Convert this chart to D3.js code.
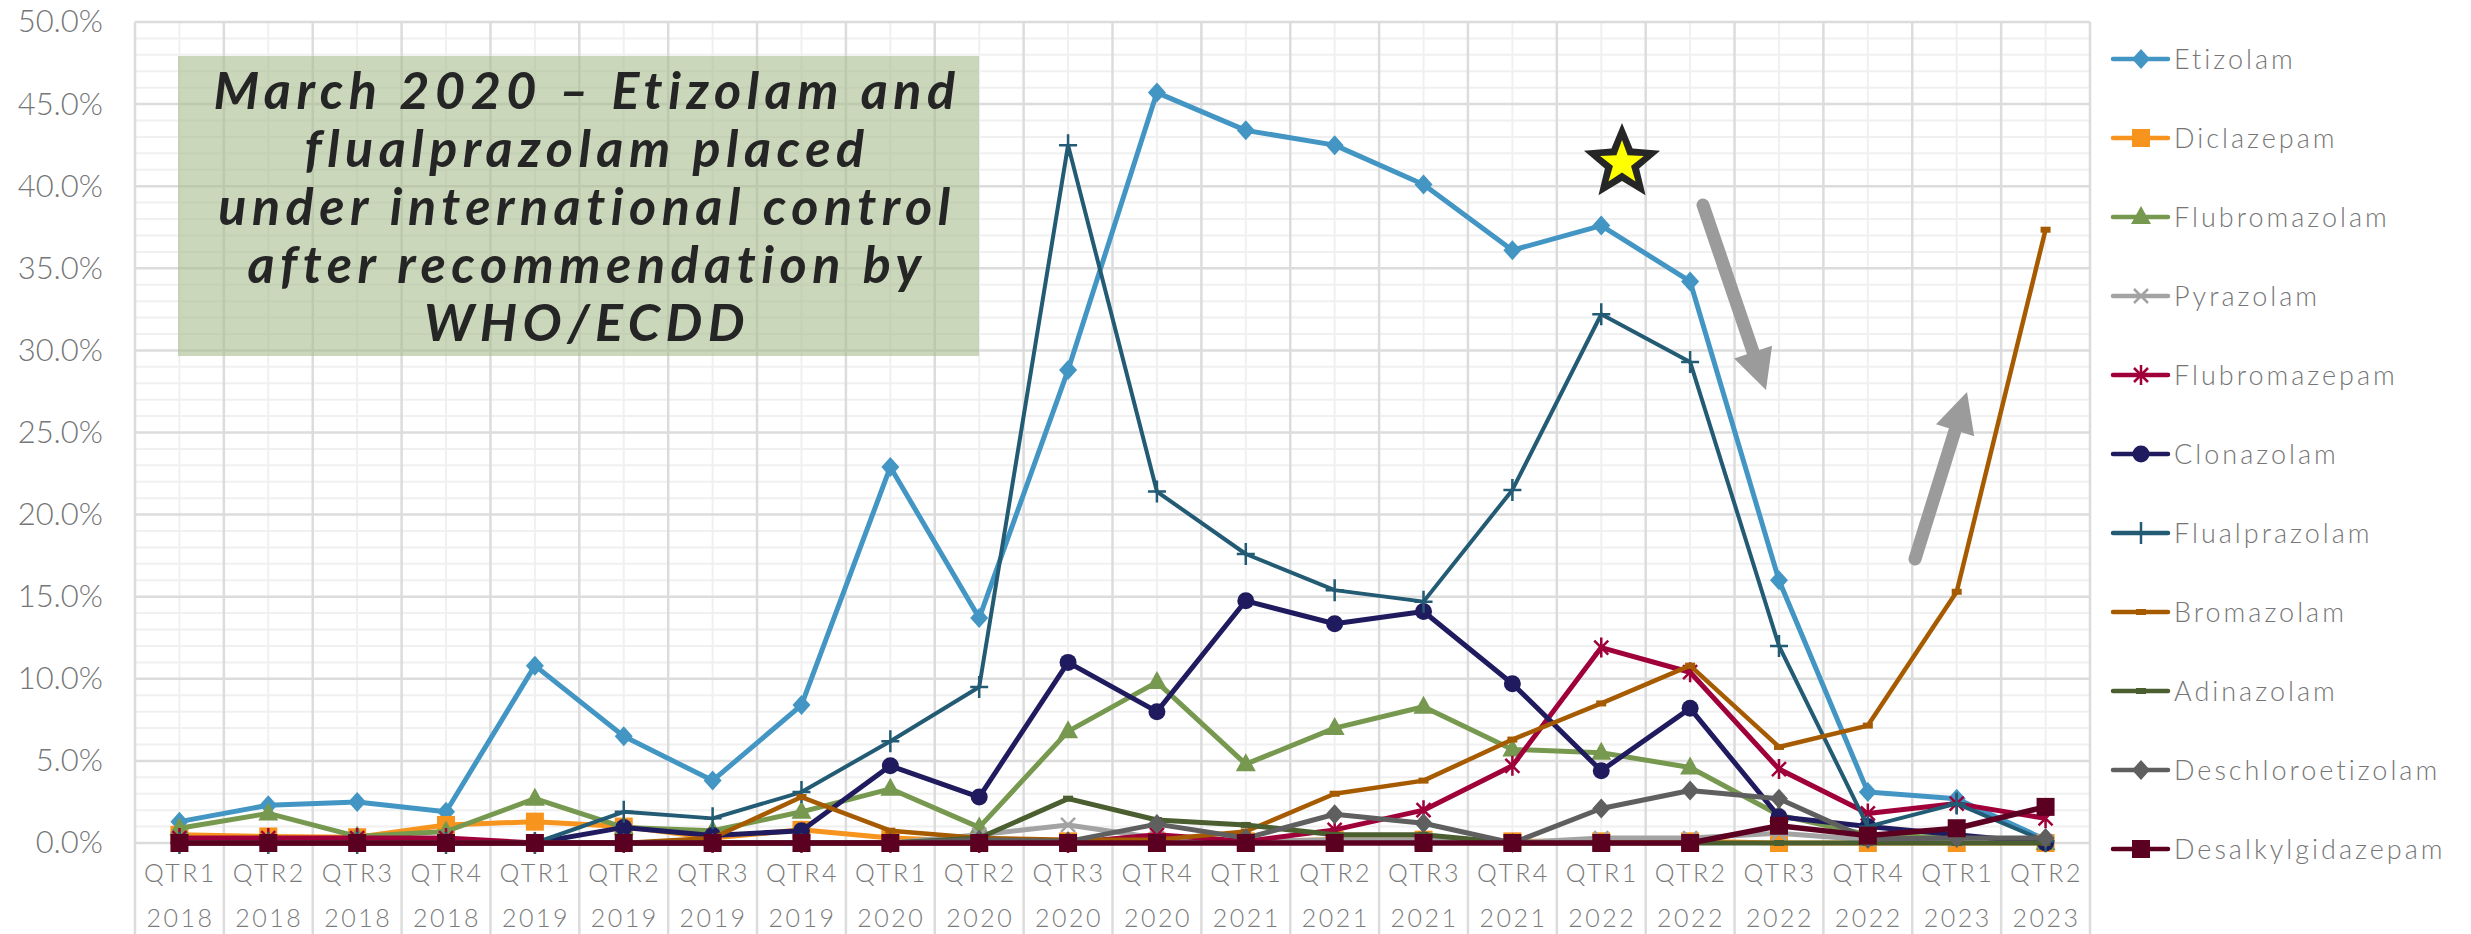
<!DOCTYPE html>
<html>
<head>
<meta charset="utf-8">
<script src="https://cdn.jsdelivr.net/npm/d3@7"></script>
<style>
  body { margin: 0; background: #fff; }
  text { font-family: Lato, "Open Sans", sans-serif; }
</style>
</head>
<body>
<main></main>
<script>
// categories
var quarters = ["QTR1","QTR2","QTR3","QTR4","QTR1","QTR2","QTR3","QTR4","QTR1","QTR2","QTR3","QTR4",
                "QTR1","QTR2","QTR3","QTR4","QTR1","QTR2","QTR3","QTR4","QTR1","QTR2"];
var years = ["2018","2018","2018","2018","2019","2019","2019","2019","2020","2020","2020","2020",
             "2021","2021","2021","2021","2022","2022","2022","2022","2023","2023"];
var yTicks = [0, 5, 10, 15, 20, 25, 30, 35, 40, 45, 50];

// series values (% share)
var etizolam          = [1.3, 2.3, 2.5, 1.9, 10.8, 6.5, 3.8, 8.4, 22.9, 13.7, 28.8, 45.7, 43.4, 42.5, 40.1, 36.1, 37.6, 34.2, 16.0, 3.1, 2.7, 0.2];
var diclazepam        = [0.5, 0.4, 0.35, 1.1, 1.3, 1.0, 0.3, 0.8, 0.3, 0.1, 0.1, 0.1, 0.1, 0.2, 0.2, 0.1, 0.1, 0.1, 0, 0, 0, 0];
var flubromazolam     = [0.9, 1.8, 0.4, 0.7, 2.7, 0.95, 0.75, 1.9, 3.3, 0.95, 6.8, 9.8, 4.8, 7.0, 8.3, 5.7, 5.5, 4.6, 1.7, 0.5, 0.3, 0];
var pyrazolam         = [0, 0, 0, 0, 0, 0, 0, 0, 0, 0.5, 1.1, 0.3, 0.1, 0.2, 0.2, 0, 0.3, 0.3, 0.6, 0.2, 0.2, 0.1];
var flubromazepam     = [0.3, 0.3, 0.3, 0.3, 0, 0, 0, 0, 0, 0, 0, 0.5, 0.1, 0.8, 2.0, 4.7, 11.9, 10.4, 4.5, 1.8, 2.4, 1.5];
var clonazolam        = [0, 0, 0, 0, 0, 0.95, 0.45, 0.75, 4.7, 2.8, 11.0, 8.0, 14.75, 13.35, 14.1, 9.7, 4.4, 8.2, 1.6, 1.0, 0.5, 0];
var flualprazolam     = [0, 0, 0, 0, 0, 1.9, 1.5, 3.1, 6.2, 9.5, 42.5, 21.4, 17.6, 15.4, 14.7, 21.5, 32.2, 29.3, 12.0, 1.0, 2.4, 0.1];
var bromazolam        = [0, 0, 0, 0, 0, 0, 0.3, 2.8, 0.75, 0.3, 0.2, 0.2, 0.7, 3.0, 3.8, 6.3, 8.5, 10.8, 5.85, 7.15, 15.3, 37.35];
var adinazolam        = [0, 0, 0, 0, 0, 0, 0, 0, 0, 0.3, 2.7, 1.4, 1.1, 0.5, 0.5, 0, 0, 0, 0, 0, 0, 0];
var deschloroetizolam = [0, 0, 0, 0, 0, 0, 0, 0, 0, 0.2, 0.1, 1.15, 0.3, 1.75, 1.2, 0, 2.1, 3.2, 2.7, 0.25, 0.3, 0.3];
var desalkylgidazepam = [0, 0, 0, 0, 0, 0, 0, 0, 0, 0, 0, 0, 0, 0, 0, 0, 0, 0, 1.05, 0.45, 0.9, 2.2];

var seriesNames = ["Etizolam","Diclazepam","Flubromazolam","Pyrazolam","Flubromazepam","Clonazolam",
                   "Flualprazolam","Bromazolam","Adinazolam","Deschloroetizolam","Desalkylgidazepam"];
var seriesValues = [etizolam, diclazepam, flubromazolam, pyrazolam, flubromazepam, clonazolam,
                    flualprazolam, bromazolam, adinazolam, deschloroetizolam, desalkylgidazepam];

// styles
var colors  = ["#4396c4","#f7941d","#77984f","#a3a3a3","#a0003a","#1f1b5e","#225b73","#a65b00","#4a5e2f","#5f5f5f","#5c0022"];
var markers = ["diamond","square","triangle","x","asterisk","circle","plus","dash","dash","diamond","square"];
var widths  = [5, 5, 5, 5, 5, 5, 4, 4.5, 5, 5, 5.5];

var W = 2471, H = 934;
var svg = d3.select("main").append("svg")
    .attr("width", W)
    .attr("height", H)
    .style("display", "block");

var x = d3.scaleBand().domain(d3.range(quarters.length)).range([135, 2090]).padding(0);
var y = d3.scaleLinear().domain([0, 50]).range([843, 22]);
var xc = function(i) { return x(i) + x.bandwidth() / 2; };

// minor gridlines
svg.append("g").selectAll("line")
  .data(d3.range(0, 51).filter(function(v) { return v % 5 !== 0; }))
  .join("line")
    .attr("x1", 135).attr("x2", 2090)
    .attr("y1", function(d) { return y(d); }).attr("y2", function(d) { return y(d); })
    .attr("stroke", "#f0f0f0").attr("stroke-width", 2);

svg.append("g").selectAll("line")
  .data(d3.range(quarters.length))
  .join("line")
    .attr("x1", xc).attr("x2", xc)
    .attr("y1", y(50)).attr("y2", y(0))
    .attr("stroke", "#f0f0f0").attr("stroke-width", 2);

// major gridlines
svg.append("g").selectAll("line")
  .data(yTicks)
  .join("line")
    .attr("x1", 135).attr("x2", 2090)
    .attr("y1", function(d) { return y(d); }).attr("y2", function(d) { return y(d); })
    .attr("stroke", "#dcdcdc").attr("stroke-width", 2.5);

svg.append("g").selectAll("line")
  .data(d3.range(quarters.length + 1))
  .join("line")
    .attr("x1", function(i) { return i < quarters.length ? x(i) : x.range()[1]; })
    .attr("x2", function(i) { return i < quarters.length ? x(i) : x.range()[1]; })
    .attr("y1", y(50)).attr("y2", H)
    .attr("stroke", "#dcdcdc").attr("stroke-width", 2.5);

// y axis
var yAxis = svg.append("g")
    .attr("transform", "translate(135,0)")
    .call(d3.axisLeft(y).tickValues(yTicks).tickSize(0).tickPadding(32)
      .tickFormat(function(d) { return d3.format(".1f")(d) + "%"; }));
yAxis.select(".domain").remove();
yAxis.selectAll("text")
    .style("font-family", "Lato, sans-serif")
    .style("font-size", "31px")
    .style("font-weight", 300)
    .attr("fill", "#767676");

// x labels (two levels)
svg.append("g").selectAll("text")
  .data(quarters)
  .join("text")
    .attr("x", function(d, i) { return xc(i) + 1; })
    .attr("y", 882)
    .attr("text-anchor", "middle")
    .attr("fill", "#7a7a7a")
    .style("font-size", "25px")
    .style("font-weight", 300)
    .style("letter-spacing", "2.5px")
    .text(function(d) { return d; });

svg.append("g").selectAll("text")
  .data(years)
  .join("text")
    .attr("x", function(d, i) { return xc(i) + 1; })
    .attr("y", 927)
    .attr("text-anchor", "middle")
    .attr("fill", "#7a7a7a")
    .style("font-size", "25px")
    .style("font-weight", 300)
    .style("letter-spacing", "2.5px")
    .text(function(d) { return d; });

// text box annotation
svg.append("rect")
    .attr("x", 178).attr("y", 56)
    .attr("width", 801).attr("height", 300)
    .attr("fill", "#a9bd8e").attr("fill-opacity", 0.6);

var boxLines = ["March 2020 \u2013 Etizolam and", "flualprazolam placed", "under international control",
                "after recommendation by", "WHO/ECDD"];
svg.append("g").selectAll("text")
  .data(boxLines)
  .join("text")
    .attr("x", 587)
    .attr("y", function(d, i) { return 109 + i * 58; })
    .attr("text-anchor", "middle")
    .attr("fill", "#252525")
    .style("font-size", "52px")
    .style("font-weight", 700)
    .style("font-style", "italic")
    .style("letter-spacing", "5.5px")
    .text(function(d) { return d; });

// marker shapes
function markerPath(type) {
  switch (type) {
    case "diamond":  return "M0,-10L9,0L0,10L-9,0Z";
    case "square":   return "M-9,-9H9V9H-9Z";
    case "triangle": return "M0,-11L10,7L-10,7Z";
    case "circle":   return "M-8.5,0A8.5,8.5 0 1,0 8.5,0A8.5,8.5 0 1,0 -8.5,0Z";
    case "dash":     return "M-5,-3H5V3H-5Z";
    case "x":        return "M-7,-7L7,7M-7,7L7,-7";
    case "asterisk": return "M-7,-7L7,7M-7,7L7,-7M0,-10V10";
    case "plus":     return "M-9,0H9M0,-11V11";
  }
}
var stroked = { x: true, asterisk: true, plus: true };

var line = d3.line()
    .x(function(d, i) { return xc(i); })
    .y(function(d) { return y(d); });

seriesValues.forEach(function(vals, s) {
  var g = svg.append("g");
  g.append("path")
      .datum(vals)
      .attr("d", line)
      .attr("fill", "none")
      .attr("stroke", colors[s])
      .attr("stroke-width", widths[s])
      .attr("stroke-linejoin", "round");
  g.selectAll("path.m")
    .data(vals)
    .join("path")
      .attr("class", "m")
      .attr("transform", function(d, i) { return "translate(" + xc(i) + "," + y(d) + ")"; })
      .attr("d", markerPath(markers[s]))
      .attr("fill", stroked[markers[s]] ? "none" : colors[s])
      .attr("stroke", stroked[markers[s]] ? colors[s] : "none")
      .attr("stroke-width", 2.5);
});

// legend
var legend = svg.append("g").selectAll("g")
  .data(seriesNames)
  .join("g")
    .attr("transform", function(d, i) { return "translate(2113," + (59 + i * 79) + ")"; });
legend.append("line")
    .attr("x1", 0).attr("x2", 55)
    .attr("stroke", function(d, i) { return colors[i]; })
    .attr("stroke-width", 4.5)
    .attr("stroke-linecap", "round");
legend.append("path")
    .attr("transform", "translate(28,0)")
    .attr("d", function(d, i) { return markerPath(markers[i]); })
    .attr("fill", function(d, i) { return stroked[markers[i]] ? "none" : colors[i]; })
    .attr("stroke", function(d, i) { return stroked[markers[i]] ? colors[i] : "none"; })
    .attr("stroke-width", 2.5);
legend.append("text")
    .attr("x", 61)
    .attr("y", 10)
    .attr("fill", "#767676")
    .style("font-size", "27px")
    .style("font-weight", 300)
    .style("letter-spacing", "3px")
    .text(function(d) { return d; });

// star
function starPath(R, r) {
  var pts = d3.range(10).map(function(k) {
    var a = -Math.PI / 2 + k * Math.PI / 5, rad = k % 2 ? r : R;
    return [rad * Math.cos(a), rad * Math.sin(a)];
  });
  return "M" + pts.join("L") + "Z";
}
var star = svg.append("g").attr("transform", "translate(1622,163)");
star.append("path").attr("d", starPath(40, 18)).attr("fill", "#262626");
star.append("path").attr("d", starPath(23, 9.5)).attr("fill", "#ffff00");

// trend arrows
function arrow(x1, y1, x2, y2) {
  var dx = x2 - x1, dy = y2 - y1, len = Math.sqrt(dx * dx + dy * dy);
  var ux = dx / len, uy = dy / len, hl = 40, hw = 20;
  var bx = x2 - ux * hl, by = y2 - uy * hl;
  svg.append("line")
      .attr("x1", x1).attr("y1", y1).attr("x2", bx + ux * 4).attr("y2", by + uy * 4)
      .attr("stroke", "#9b9b9b").attr("stroke-width", 13).attr("stroke-linecap", "round");
  svg.append("path")
      .attr("d", "M" + x2 + "," + y2 + "L" + (bx - uy * hw) + "," + (by + ux * hw) +
                 "L" + (bx + uy * hw) + "," + (by - ux * hw) + "Z")
      .attr("fill", "#9b9b9b");
}
arrow(1703, 205, 1766, 390);
arrow(1915, 559, 1967, 392);
</script>
</body>
</html>
